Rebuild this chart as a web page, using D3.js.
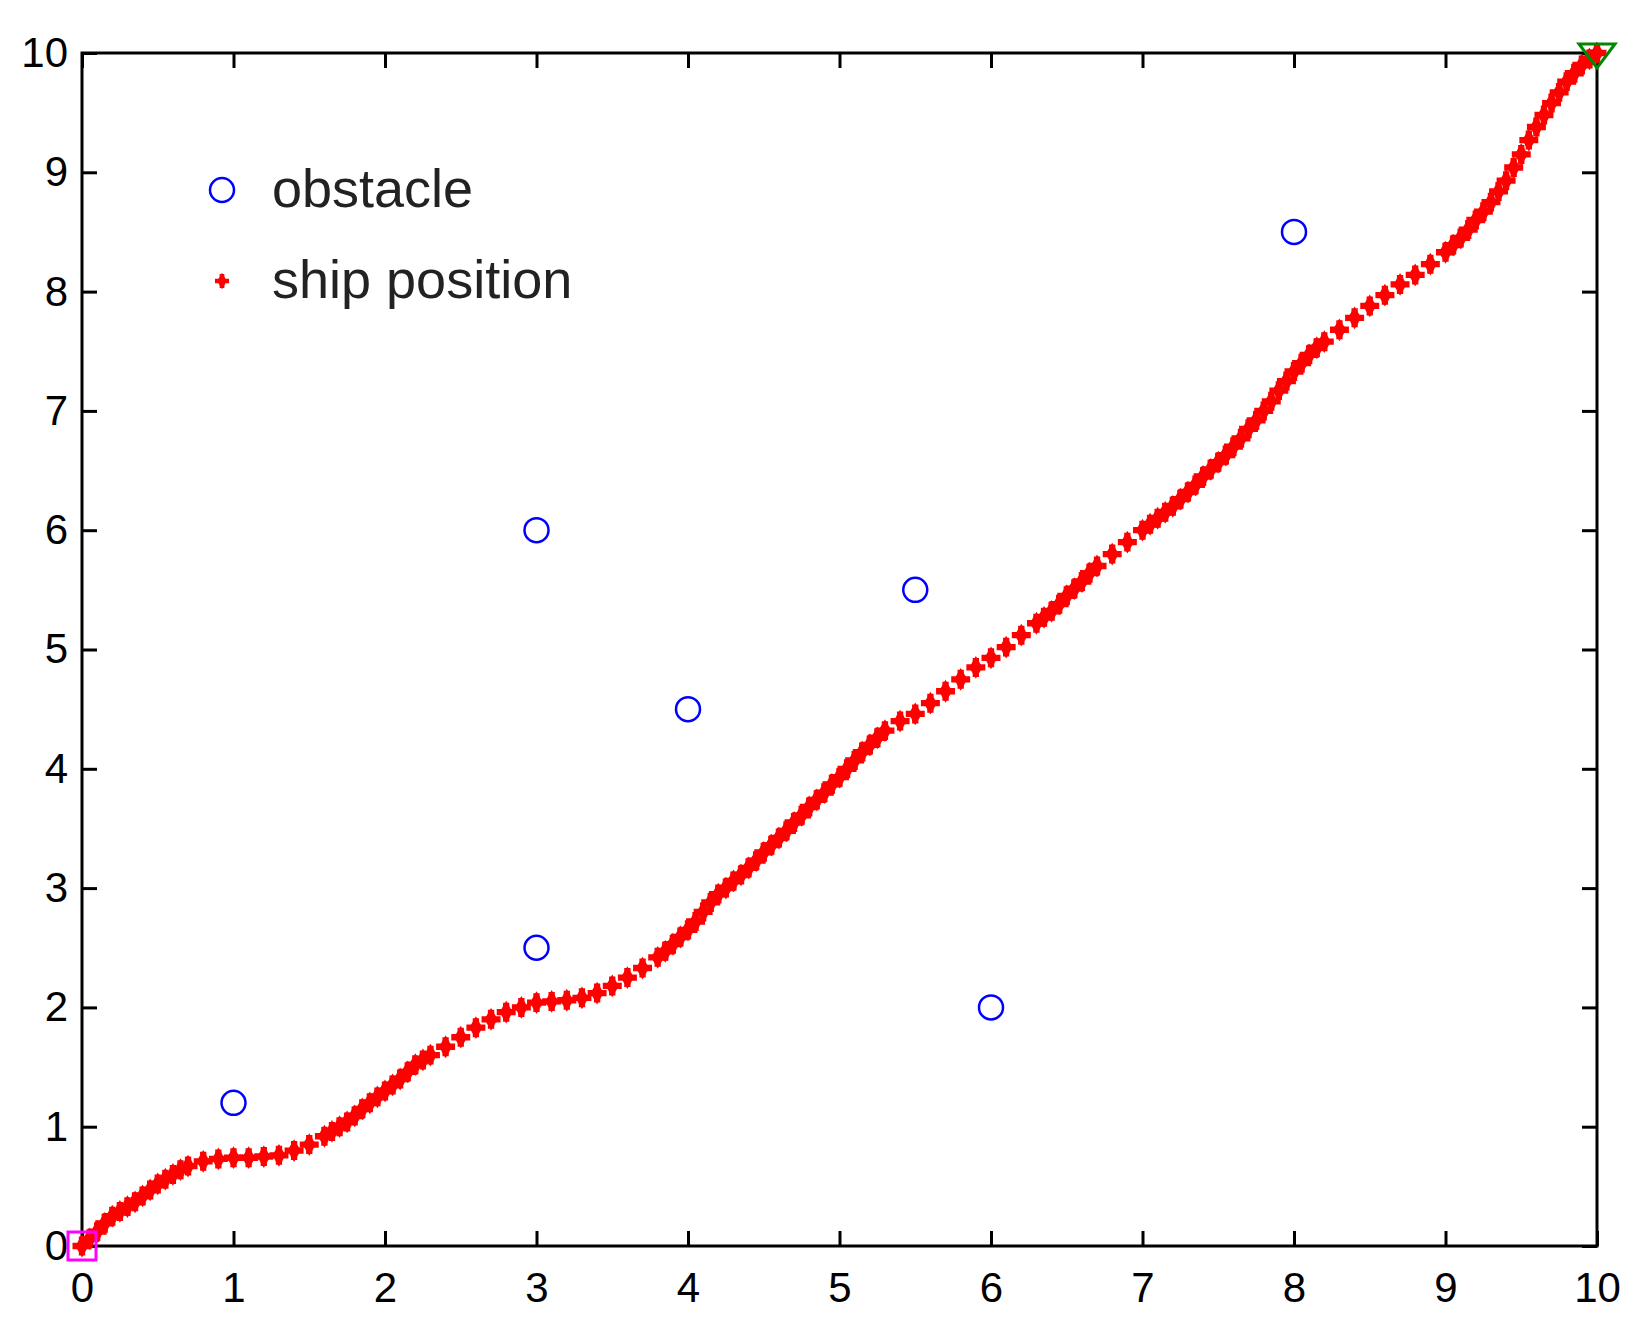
<!DOCTYPE html><html><head><meta charset="utf-8"><script src="https://cdn.jsdelivr.net/npm/d3@7"></script>
<style>body{margin:0;background:#fff}</style></head><body><svg id="c" width="1650" height="1340"></svg>
<script>
const xTicks=[0,1,2,3,4,5,6,7,8,9,10];
const yTicks=[0,1,2,3,4,5,6,7,8,9,10];
const obstacleX=[1,3,3,4,5.5,6,8];
const obstacleY=[1.2,6,2.5,4.5,5.5,2,8.5];
const shipX=[0,0.05,0.1,0.15,0.2,0.25,0.3,0.35,0.4,0.45,0.5,0.55,0.6,0.65,0.7,0.8,0.9,1.0,1.1,1.2,1.3,1.4,1.5,1.6,1.65,1.7,1.75,1.8,1.85,1.9,1.95,2.0,2.05,2.1,2.15,2.2,2.25,2.3,2.4,2.5,2.6,2.7,2.8,2.9,3.0,3.1,3.2,3.3,3.4,3.5,3.6,3.7,3.8,3.85,3.9,3.95,4.0,4.05,4.1,4.15,4.2,4.25,4.3,4.35,4.4,4.45,4.5,4.55,4.6,4.65,4.7,4.75,4.8,4.85,4.9,4.95,5.0,5.05,5.1,5.15,5.2,5.25,5.3,5.4,5.5,5.6,5.7,5.8,5.9,6.0,6.1,6.2,6.3,6.35,6.4,6.45,6.5,6.55,6.6,6.65,6.7,6.8,6.9,7.0,7.05,7.1,7.15,7.2,7.25,7.3,7.35,7.4,7.45,7.5,7.55,7.6,7.65,7.7,7.75,7.8,7.85,7.9,7.95,8.0,8.05,8.1,8.15,8.2,8.3,8.4,8.5,8.6,8.7,8.8,8.9,9.0,9.05,9.1,9.15,9.2,9.25,9.3,9.35,9.4,9.45,9.5,9.55,9.6,9.65,9.7,9.75,9.8,9.85,9.9,9.95,10];
const shipY=[0,0.06,0.12,0.19,0.25,0.29,0.33,0.37,0.42,0.47,0.52,0.56,0.6,0.64,0.67,0.71,0.73,0.74,0.74,0.75,0.76,0.8,0.85,0.92,0.96,1.0,1.04,1.09,1.15,1.2,1.25,1.3,1.35,1.4,1.46,1.52,1.56,1.6,1.67,1.75,1.83,1.9,1.96,2.0,2.04,2.05,2.06,2.08,2.12,2.18,2.25,2.33,2.42,2.47,2.53,2.59,2.65,2.72,2.8,2.88,2.95,3.0,3.06,3.11,3.17,3.23,3.3,3.36,3.42,3.48,3.55,3.61,3.68,3.74,3.8,3.87,3.93,4.0,4.07,4.14,4.2,4.26,4.32,4.4,4.46,4.55,4.65,4.75,4.85,4.93,5.02,5.12,5.22,5.27,5.32,5.38,5.45,5.51,5.57,5.64,5.7,5.8,5.9,6.0,6.05,6.1,6.15,6.2,6.26,6.32,6.38,6.45,6.51,6.57,6.63,6.7,6.77,6.85,6.92,7.0,7.08,7.17,7.25,7.33,7.4,7.47,7.53,7.58,7.68,7.78,7.88,7.97,8.06,8.14,8.23,8.33,8.39,8.45,8.52,8.6,8.67,8.75,8.84,8.93,9.04,9.15,9.27,9.38,9.48,9.58,9.67,9.76,9.83,9.9,9.95,10];
const svg=d3.select("#c");
const L=82,R=1597,T=53,B=1246;
const x=d3.scaleLinear().domain([0,10]).range([L,R]);
const y=d3.scaleLinear().domain([0,10]).range([B,T]);
const font="Liberation Sans, Arial, sans-serif";
function ax(g){g.selectAll(".domain").remove();g.selectAll("line").attr("stroke","#000").attr("stroke-width",3);g.selectAll("text").attr("font-family",font).attr("font-size",42).attr("fill","#000");}
svg.append("g").attr("transform",`translate(0,${B})`).call(d3.axisBottom(x).tickValues(xTicks).tickSize(-15).tickPadding(18).tickFormat(d3.format("d"))).call(ax).selectAll("text").attr("dy","0.9em");
svg.append("g").attr("transform",`translate(0,${T})`).call(d3.axisTop(x).tickValues(xTicks).tickSize(-15).tickFormat("")).call(ax);
svg.append("g").attr("transform",`translate(${L},0)`).call(d3.axisLeft(y).tickValues(yTicks).tickSize(-15).tickPadding(14).tickFormat(d3.format("d"))).call(ax);
svg.append("g").attr("transform",`translate(${R},0)`).call(d3.axisRight(y).tickValues(yTicks).tickSize(-15).tickFormat("")).call(ax);
svg.append("rect").attr("x",L).attr("y",T).attr("width",R-L).attr("height",B-T).attr("fill","none").attr("stroke","#000").attr("stroke-width",3);
const cross=d3.symbol().type(d3.symbolCross).size(200);
const diamond=d3.symbol().type(d3.symbolDiamond).size(150);
const pts=shipX.map((v,i)=>[v,shipY[i]]);
const g=svg.append("g");
g.selectAll("path.c").data(pts).join("path").attr("d",cross).attr("transform",d=>`translate(${x(d[0])},${y(d[1])})`).attr("fill","#f00");
g.selectAll("path.d").data(pts).join("path").attr("d",diamond).attr("transform",d=>`translate(${x(d[0])},${y(d[1])})`).attr("fill","#f00");
svg.selectAll("circle.o").data(obstacleX.map((v,i)=>[v,obstacleY[i]])).join("circle").attr("cx",d=>x(d[0])).attr("cy",d=>y(d[1])).attr("r",12).attr("fill","none").attr("stroke","#00f").attr("stroke-width",2.5);
svg.append("rect").attr("x",x(0)-14).attr("y",y(0)-14).attr("width",28).attr("height",28).attr("fill","none").attr("stroke","#f0f").attr("stroke-width",3);
svg.append("path").attr("d",`M${x(10)-18},${y(10)-9}L${x(10)+18},${y(10)-9}L${x(10)},${y(10)+15}Z`).attr("fill","none").attr("stroke","#080").attr("stroke-width",3);
svg.append("circle").attr("cx",222).attr("cy",190).attr("r",12).attr("fill","none").attr("stroke","#00f").attr("stroke-width",2.5);
svg.append("path").attr("d",d3.symbol().type(d3.symbolCross).size(110)).attr("transform","translate(222,281)").attr("fill","#f00");
svg.append("path").attr("d",d3.symbol().type(d3.symbolDiamond).size(80)).attr("transform","translate(222,281)").attr("fill","#f00");
svg.append("text").attr("x",272).attr("y",188).attr("dy","0.35em").attr("font-family",font).attr("font-size",54).attr("fill","#222").text("obstacle");
svg.append("text").attr("x",272).attr("y",279).attr("dy","0.35em").attr("font-family",font).attr("font-size",54).attr("fill","#222").text("ship position");
</script></body></html>
